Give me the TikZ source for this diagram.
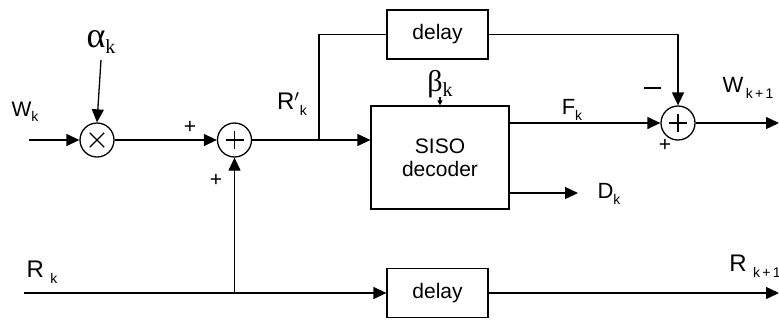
\documentclass[tikz,border=0pt]{standalone}
\usepackage{fontspec}
\setmainfont{Liberation Sans}
\newfontfamily\grk{Liberation Serif}
\usetikzlibrary{positioning, arrows.meta}
\newcommand{\lowidx}[1]{\raisebox{-0.45ex}{\fontsize{7}{8}\selectfont #1}}
\newcommand{\grkidx}[1]{\raisebox{-0.4ex}{\fontsize{10}{11}\selectfont #1}}

\begin{document}
\begin{tikzpicture}[x=0.5pt, y=-0.5pt, line width=0.65pt,
    font=\fontsize{10.5}{12.5}\selectfont,
    block/.style = {draw, minimum width=50.5pt, minimum height=24.5pt, inner sep=0pt},
    opnode/.style = {draw, circle, minimum size=17pt, inner sep=0pt},
    sumnode/.style = {opnode, path picture={
        \draw ([xshift=-4.5pt]path picture bounding box.center) -- ([xshift=4.5pt]path picture bounding box.center)
              ([yshift=-4.5pt]path picture bounding box.center) -- ([yshift=4.5pt]path picture bounding box.center);}},
    mulnode/.style = {opnode, path picture={
        \draw ([shift={(-3.6pt,-3.6pt)}]path picture bounding box.center) -- ([shift={(3.6pt,3.6pt)}]path picture bounding box.center)
              ([shift={(-3.6pt,3.6pt)}]path picture bounding box.center) -- ([shift={(3.6pt,-3.6pt)}]path picture bounding box.center);}},
    sig/.style = {-{Triangle[length=6.5pt, width=6pt]}},
    tinysig/.style = {-{Triangle[length=2.5pt, width=2.5pt]}},
    lbl/.style = {inner sep=0pt}]
    \useasboundingbox (0,0) rectangle (779,322);

    \node[mulnode] (mult) at (97,140) {};
    \node[sumnode] (sumA) at (234.5,140) {};
    \node[sumnode] (sumB) at (678,123) {};
    \node[block] (delayA) at (437.5,34.5) {delay};
    \node[block] (delayB) at (437.5,293) {delay};
    \node[draw, minimum width=69pt, minimum height=51.5pt, align=center, inner sep=0pt] (siso) at (440,157.5) {SISO\\[-1pt]decoder};

    \node[lbl] (wk) at (25,112) {W\lowidx{k}};
    \node[lbl] (alpha) at (101,42) {\grk\fontsize{18}{20}\selectfont α\grkidx{k}};
    \node[lbl] (rk) at (42,272) {\fontsize{12}{14}\selectfont R\,\lowidx{\,k}};
    \node[lbl] (rprime) at (292,104) {\fontsize{12}{14}\selectfont R$'$\lowidx{k}};
    \node[lbl] (beta) at (440,84) {\grk\fontsize{15}{17}\selectfont β\grkidx{k}};
    \node[lbl] (fk) at (572,110) {\fontsize{11}{13}\selectfont F\lowidx{k}};
    \node[lbl] (dk) at (609,194) {\fontsize{11}{13}\selectfont D\lowidx{k}};
    \node[lbl] (wout) at (748,88) {\fontsize{11}{13}\selectfont W\lowidx{\,k\,+\,1}};
    \node[lbl] (rout) at (755,266) {\fontsize{12}{14}\selectfont R\,\lowidx{\,k\,+\,1}};
    \node[lbl] (plusA) at (190,127) {+};
    \node[lbl] (plusB) at (216,180) {+};
    \node[lbl] (minusC) at (652,88) {\rule{8.5pt}{0.6pt}};
    \node[lbl] (plusC) at (665,145) {+};

    \coordinate (win) at (29,140);
    \coordinate (rin) at (24,293);
    \coordinate (split) at (234.5,293);
    \coordinate (branch) at (319,140);
    \coordinate (dend) at (578,193);
    \coordinate (wend) at (779,123);
    \coordinate (rend) at (779,293);

    \draw[sig] (win) -- (mult.west);
    \draw[sig] (alpha.south |- 0,60) -- (mult.north);
    \draw[sig] (mult.east) -- (sumA.west);
    \draw[sig] (rin) -- (delayB.west);
    \draw[sig] (split) -- (sumA.south);
    \draw[sig] (sumA.east) -- (sumA -| siso.west);
    \draw (branch) |- (delayA.west);
    \draw[sig] (delayA.east) -| (sumB.north);
    \draw[tinysig] (beta.south -| siso.north) ++(0,-1) -- (siso.north);
    \draw[sig] (siso.east |- sumB) -- (sumB.west);
    \draw[sig] (siso.east |- dend) -- (dend);
    \draw[sig] (sumB.east) -- (wend);
    \draw[sig] (delayB.east) -- (rend);
\end{tikzpicture}
\end{document}
